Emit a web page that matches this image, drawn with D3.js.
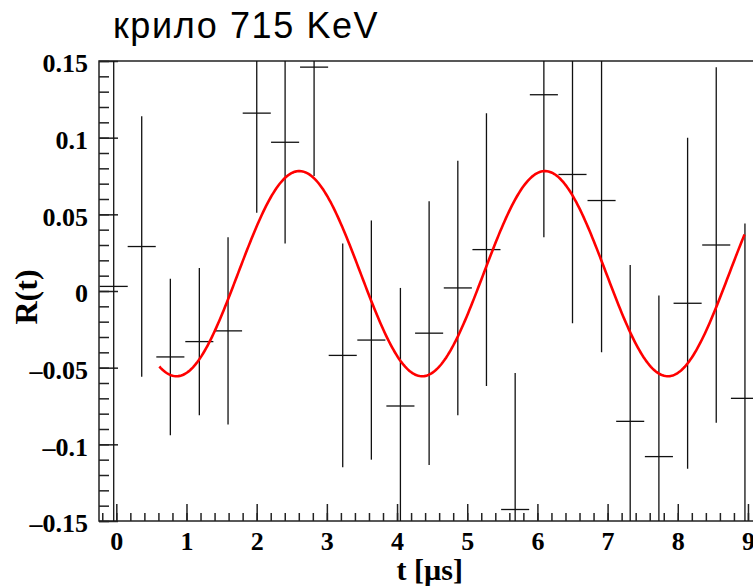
<!DOCTYPE html>
<html>
<head>
<meta charset="utf-8">
<script src="https://cdn.jsdelivr.net/npm/d3@7"></script>
<style>
  html, body { margin: 0; padding: 0; background: #fff; }
  svg { display: block; }
</style>
</head>
<body>
<svg id="chart" width="753" height="587"></svg>
<script>
// Measured asymmetry R(t) per time bin, with statistical errors
const tValues = [-0.037, 0.362, 0.770, 1.183, 1.592, 2.001, 2.405, 2.818, 3.226, 3.634, 4.048, 4.457,
                 4.866, 5.274, 5.683, 6.092, 6.500, 6.914, 7.322, 7.731, 8.140, 8.548, 8.957];
const rValues = [0.003, 0.029, -0.043, -0.033, -0.026, 0.116, 0.097, 0.146, -0.042, -0.032, -0.075, -0.0275,
                 0.002, 0.027, -0.1425, 0.128, 0.076, 0.059, -0.085, -0.108, -0.008, 0.030, -0.070];
const rErrors = [0.17, 0.085, 0.051, 0.048, 0.061, 0.065, 0.066, 0.071, 0.073, 0.078, 0.077, 0.086,
                 0.083, 0.089, 0.089, 0.093, 0.097, 0.099, 0.102, 0.105, 0.108, 0.116, 0.114];
const tHalfWidth = 0.2;

// Fitted oscillation: offset + amplitude * cos(2π (t - tPeak) / period)
const fitOffset = 0.0113;
const fitAmplitude = 0.0669;
const fitPeriod = 3.50;
const fitPeak = 2.608;
const fitRange = [0.613, 8.951];

const xTicks = [0, 1, 2, 3, 4, 5, 6, 7, 8, 9];
const yTicks = [-0.15, -0.1, -0.05, 0, 0.05, 0.1, 0.15];
const yTickLabels = ["\u20130.15", "\u20130.1", "\u20130.05", "0", "0.05", "0.1", "0.15"];

const title = "крило 715 KeV";
const xTitle = "t [\u00b5s]";
const yTitle = "R(t)";

const svg = d3.select("#chart");
const frame = { left: 99, right: 762, top: 61, bottom: 521 };

const x = d3.scaleLinear().domain([-0.2466, 9.2]).range([frame.left, frame.right]);
const y = d3.scaleLinear().domain([-0.15, 0.15]).range([frame.bottom, frame.top]);

const serif = "'Liberation Serif', 'Times New Roman', serif";

// Clip region for the data inside the frame
svg.append("defs").append("clipPath").attr("id", "plotClip")
  .append("rect")
  .attr("x", frame.left).attr("y", frame.top)
  .attr("width", frame.right - frame.left).attr("height", frame.bottom - frame.top);

// Frame
svg.append("rect")
  .attr("x", frame.left).attr("y", frame.top)
  .attr("width", frame.right - frame.left).attr("height", frame.bottom - frame.top)
  .attr("fill", "none").attr("stroke", "#222").attr("stroke-width", 1.5);

// Y axis: minor ticks then major ticks with labels, drawn inward
const yMinor = d3.range(-150, 151, 10).map(v => v / 1000);
svg.append("g").attr("transform", `translate(${frame.left},0)`)
  .call(d3.axisLeft(y).tickValues(yMinor).tickSize(-10).tickSizeOuter(0).tickFormat(""))
  .call(g => g.select(".domain").remove())
  .call(g => g.selectAll("line").attr("stroke", "#222").attr("stroke-width", 1.5));

svg.append("g").attr("transform", `translate(${frame.left},0)`)
  .call(d3.axisLeft(y).tickValues(yTicks).tickSize(-19).tickSizeOuter(0).tickPadding(11)
    .tickFormat((d, i) => yTickLabels[i]))
  .call(g => g.select(".domain").remove())
  .call(g => g.selectAll("line").attr("stroke", "#222").attr("stroke-width", 1.5))
  .call(g => g.selectAll("text")
    .attr("dy", "0.42em")
    .attr("fill", "#000")
    .style("font-family", serif).style("font-weight", "bold").style("font-size", "26px"));

// X axis: minor ticks then major ticks with labels, drawn inward
const xMinor = d3.range(-1, 47).map(v => v / 5);
svg.append("g").attr("transform", `translate(0,${frame.bottom})`)
  .call(d3.axisBottom(x).tickValues(xMinor).tickSize(-8).tickSizeOuter(0).tickFormat(""))
  .call(g => g.select(".domain").remove())
  .call(g => g.selectAll("line").attr("stroke", "#222").attr("stroke-width", 1.5));

svg.append("g").attr("transform", `translate(0,${frame.bottom})`)
  .call(d3.axisBottom(x).tickValues(xTicks).tickSize(-17).tickSizeOuter(0).tickPadding(11)
    .tickFormat(d3.format("d")))
  .call(g => g.select(".domain").remove())
  .call(g => g.selectAll("line").attr("stroke", "#222").attr("stroke-width", 1.5))
  .call(g => g.selectAll("text")
    .attr("fill", "#000")
    .style("font-family", serif).style("font-weight", "bold").style("font-size", "26px"));

// Data points with error bars
const points = tValues.map((t, i) => ({ t, r: rValues[i], e: rErrors[i] }));
const dataG = svg.append("g").attr("clip-path", "url(#plotClip)");

dataG.selectAll("line.err").data(points).join("line")
  .attr("class", "err")
  .attr("x1", d => x(d.t)).attr("x2", d => x(d.t))
  .attr("y1", d => y(d.r + d.e)).attr("y2", d => y(d.r - d.e))
  .attr("stroke", "#111").attr("stroke-width", 1.3);

dataG.selectAll("line.bin").data(points).join("line")
  .attr("class", "bin")
  .attr("x1", d => x(d.t - tHalfWidth)).attr("x2", d => x(d.t + tHalfWidth))
  .attr("y1", d => y(d.r)).attr("y2", d => y(d.r))
  .attr("stroke", "#111").attr("stroke-width", 1.3);

// Fit curve
const fitSamples = d3.range(0, 401).map(k => {
  const t = fitRange[0] + (fitRange[1] - fitRange[0]) * k / 400;
  return [t, fitOffset + fitAmplitude * Math.cos(2 * Math.PI * (t - fitPeak) / fitPeriod)];
});
dataG.append("path")
  .datum(fitSamples)
  .attr("fill", "none")
  .attr("stroke", "#ff0000")
  .attr("stroke-width", 2.6)
  .attr("d", d3.line().x(d => x(d[0])).y(d => y(d[1])));

// Title
svg.append("text")
  .attr("x", 113).attr("y", 38)
  .attr("fill", "#000")
  .style("font-family", "'Liberation Sans', Arial, sans-serif")
  .style("font-size", "36px")
  .style("letter-spacing", "1.6px")
  .text(title);

// Axis titles
svg.append("text")
  .attr("x", 463).attr("y", 580)
  .attr("text-anchor", "end")
  .attr("fill", "#000")
  .style("font-family", serif).style("font-weight", "bold").style("font-size", "30px")
  .text(xTitle);

svg.append("text")
  .attr("transform", "translate(37,297) rotate(-90)")
  .attr("text-anchor", "middle")
  .attr("fill", "#000")
  .style("font-family", serif).style("font-weight", "bold").style("font-size", "32px")
  .text(yTitle);
</script>
</body>
</html>
